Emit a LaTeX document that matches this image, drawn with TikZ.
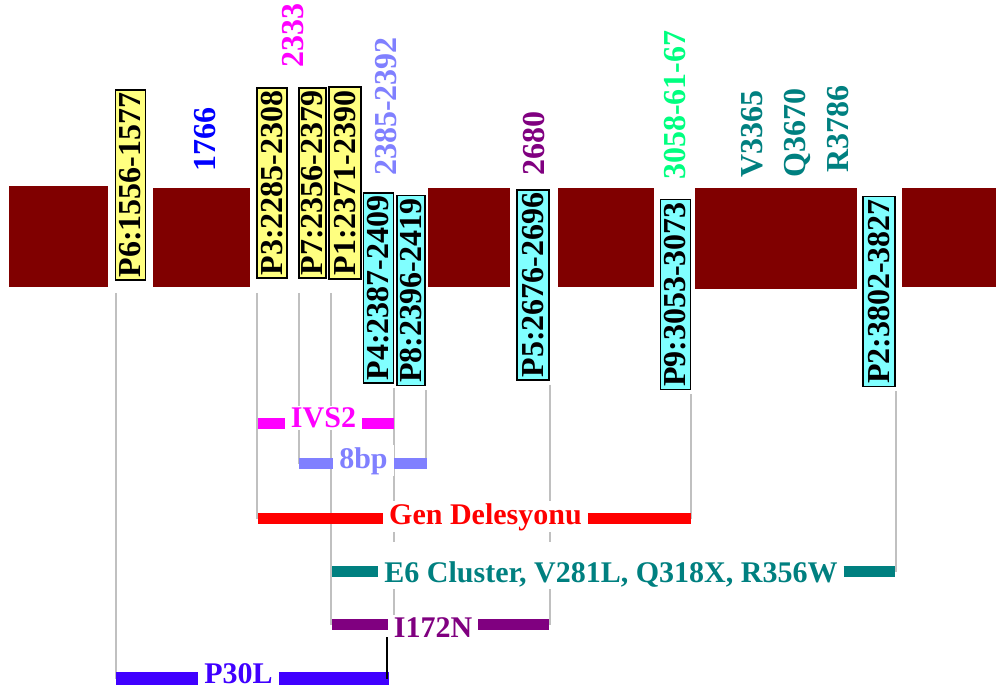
\documentclass[tikz,border=0pt]{standalone}
\usepackage{fontspec}
\setmainfont{Liberation Serif}
\usepackage{xcolor}
\usepackage{tikz}
\usetikzlibrary{calc,backgrounds}

\definecolor{exonred}{RGB}{128,0,0}
\definecolor{boxyellow}{RGB}{255,255,128}
\definecolor{boxcyan}{RGB}{128,255,255}
\definecolor{linegray}{RGB}{192,192,192}
\definecolor{ivsmagenta}{RGB}{255,0,255}
\definecolor{lightviolet}{RGB}{128,128,255}
\definecolor{textblue}{RGB}{0,0,255}
\definecolor{mutpurple}{RGB}{128,0,128}
\definecolor{codegreen}{RGB}{0,255,128}
\definecolor{clusterteal}{RGB}{0,128,128}
\definecolor{delred}{RGB}{255,0,0}
\definecolor{p30blue}{RGB}{64,0,255}

\begin{document}
\begin{tikzpicture}[x=1pt,y=-1pt,
  probe/.style={draw=black, line width=1.5pt, rotate=90, minimum width=190pt, minimum height=30pt, inner sep=0pt, font=\fontsize{32}{32}\selectfont\bfseries},
  ybox/.style={probe, fill=boxyellow},
  cbox/.style={probe, fill=boxcyan},
  toplbl/.style={rotate=90, anchor=west, inner sep=0pt, font=\fontsize{32}{32}\selectfont\bfseries},
  barlbl/.style={fill=white, anchor=base, inner xsep=6pt, inner ysep=2pt, font=\fontsize{30}{30}\selectfont\bfseries},
  bar/.style={line width=11pt},
  guide/.style={draw=linegray, line width=2pt}]
\useasboundingbox (0,0) rectangle (996,692);

% exons
\fill[exonred] (9,186) rectangle (108,287);
\fill[exonred] (153,188) rectangle (250,287);
\fill[exonred] (428,188) rectangle (510,287);
\fill[exonred] (558,188) rectangle (654,287);
\fill[exonred] (695,188) rectangle (857,289);
\fill[exonred] (902,188) rectangle (996,287);

% probes
\node[ybox] (p6) at (130.5,185) {P6:1556-1577};
\node[ybox] (p3) at (272,183) {P3:2285-2308};
\node[ybox, minimum height=27pt] (p7) at (312.5,183) {P7:2356-2379};
\node[ybox, minimum height=32pt, minimum width=192pt] (p1) at (345,183) {P1:2371-2390};
\node[cbox] (p4) at (378.5,288) {P4:2387-2409};
\node[cbox, minimum height=28pt] (p8) at (411,290.5) {P8:2396-2419};
\node[cbox, minimum height=32pt] (p5) at (533,285) {P5:2676-2696};
\node[cbox] (p9) at (675.5,294.5) {P9:3053-3073};
\node[cbox, minimum height=32pt] (p2) at (879,291.5) {P2:3802-3827};

% mutation positions
\node[toplbl, ivsmagenta] (l2333) at (293,68) {2333};
\node[toplbl, textblue] (l1766) at (205,172) {1766};
\node[toplbl, lightviolet] (l2385) at (386,176) {2385-2392};
\node[toplbl, mutpurple] (l2680) at (534,176) {2680};
\node[toplbl, codegreen] (l3058) at (675,180) {3058-61-67};
\node[toplbl, clusterteal] (lv3365) at (752,178) {V3365};
\node[toplbl, clusterteal] (lq3670) at (797,178) {Q3670};
\node[toplbl, clusterteal] (lr3786) at (838,173) {R3786};

% bar ends
\coordinate (top) at (0,293);
\coordinate (ivsL) at (258,423.5);  \coordinate (ivsR) at (394,423.5);
\coordinate (bpL) at (299,463.5);   \coordinate (bpR) at (427,463.5);
\coordinate (genL) at (258,518.5);  \coordinate (genR) at (691,518.5);
\coordinate (e6L) at (332,571.5);   \coordinate (e6R) at (895,571.5);
\coordinate (iL) at (332,624.5);    \coordinate (iR) at (549,624.5);
\coordinate (p30L) at (116,678.5);  \coordinate (p30R) at (389,678.5);
\coordinate (tick) at (387,637);

% bar labels
\node[barlbl, text=ivsmagenta] (ivs) at (323.5,428) {IVS2};
\node[barlbl, text=lightviolet] (bp) at (363.5,468) {8bp};
\node[barlbl, text=delred] (gen) at (485.5,524) {Gen Delesyonu};
\node[barlbl, text=clusterteal, text height=38pt] (e6) at (611,582) {E6 Cluster, V281L, Q318X, R356W};
\node[barlbl, text=mutpurple] (i172) at (433,637) {I172N};
\node[barlbl, text=p30blue] (p30) at (238.5,683) {P30L};

% guide lines
\begin{scope}[on background layer]
\draw[guide] ([xshift=1pt]p6.north west |- top) -- ([xshift=1pt]p6.north west |- p30L);
\draw[guide] ([xshift=1pt]p3.north west |- top) -- ([xshift=1pt]p3.north west |- genL);
\draw[guide] ([xshift=1pt]p7.north west |- top) -- ([xshift=1pt]p7.north west |- bpL);
\draw[guide] ([xshift=3pt]p1.north west |- top) -- ([xshift=3pt]p1.north west |- iL);
\draw[guide] ([yshift=-4pt]p4.south west) -- (p4.south west |- iL);
\draw[guide] ([yshift=-4pt]p8.south west) -- (p8.south west |- bpR);
\draw[guide] ([yshift=-4pt]p5.south west) -- (p5.south west |- iR);
\draw[guide] ([yshift=-4pt]p9.south west) -- (p9.south west |- genR);
\draw[guide] ([yshift=-4pt]p2.south west) -- (p2.south west |- e6R);
\end{scope}

% bars
\draw[bar, ivsmagenta] (ivsL) -- (ivs.west |- ivsL);
\draw[bar, ivsmagenta] (ivs.east |- ivsR) -- (ivsR);
\draw[bar, lightviolet] (bpL) -- (bp.west |- bpL);
\draw[bar, lightviolet] (bp.east |- bpR) -- (bpR);
\draw[bar, delred] (genL) -- (gen.west |- genL);
\draw[bar, delred] (gen.east |- genR) -- (genR);
\draw[bar, clusterteal] (e6L) -- (e6.west |- e6L);
\draw[bar, clusterteal] (e6.east |- e6R) -- (e6R);
\draw[bar, mutpurple] (iL) -- (i172.west |- iL);
\draw[bar, mutpurple] (i172.east |- iR) -- (iR);
\draw[bar, line width=13pt, p30blue] (p30L) -- (p30.west |- p30L);
\draw[bar, line width=13pt, p30blue] (p30.east |- p30R) -- (p30R);
\draw[line width=1.5pt] (tick) -- (tick |- p30R);
\end{tikzpicture}
\end{document}
